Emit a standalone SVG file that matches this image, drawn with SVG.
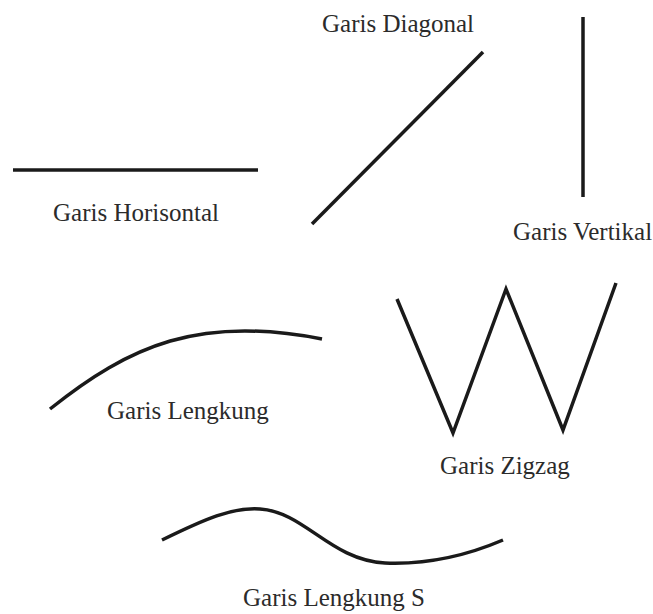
<svg xmlns="http://www.w3.org/2000/svg" width="653" height="614" viewBox="0 0 653 614">
<style>
.ln{fill:none;stroke:#1a1a1a;stroke-width:3.5;stroke-linejoin:miter;stroke-linecap:butt}
.lb{font-family:"Liberation Serif","Times New Roman",serif;font-size:25px;fill:#2b2b2b}
</style>
<rect width="653" height="614" fill="#ffffff"/>
<g id="horisontal">
<line class="ln" x1="13" y1="170" x2="258" y2="170"/>
<text class="lb" x="53" y="221">Garis Horisontal</text>
</g>
<g id="diagonal">
<line class="ln" x1="312" y1="224" x2="483" y2="52"/>
<text class="lb" x="322" y="32">Garis Diagonal</text>
</g>
<g id="vertikal">
<line class="ln" x1="583" y1="17" x2="583" y2="197"/>
<text class="lb" x="513" y="240">Garis Vertikal</text>
</g>
<g id="lengkung">
<path class="ln" d="M50,409 C130,345 200,315 322,339"/>
<text class="lb" x="107" y="419">Garis Lengkung</text>
</g>
<g id="zigzag">
<polyline class="ln" points="397,299 453,433 506,289 563,430 616,283"/>
<text class="lb" x="440" y="474">Garis Zigzag</text>
</g>
<g id="lengkung-s">
<path class="ln" d="M162,540 C205,519 232,507 260,509 C305,512 330,560 385,563 C435,565 475,552 503,540"/>
<text class="lb" x="243" y="606">Garis Lengkung S</text>
</g>
</svg>
